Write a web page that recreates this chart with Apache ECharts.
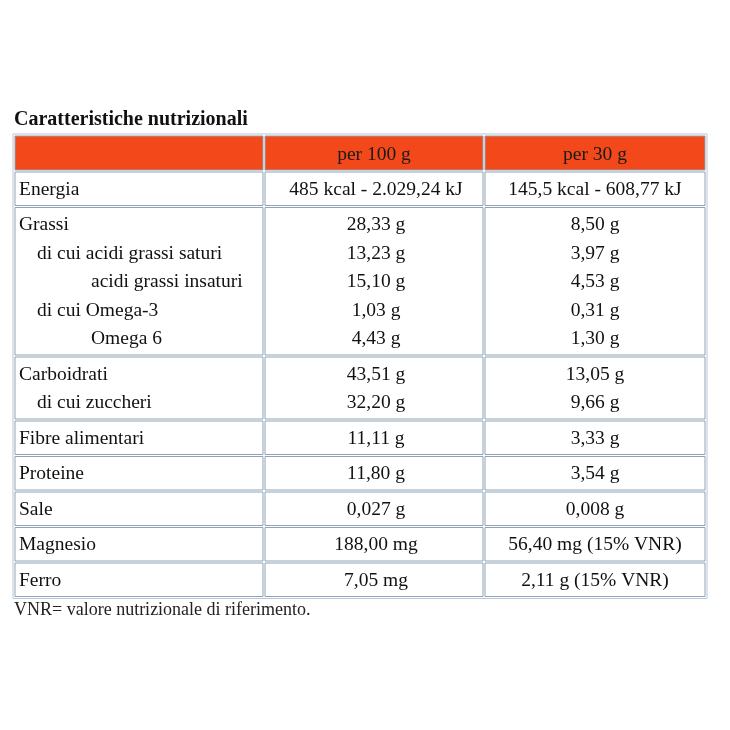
<!DOCTYPE html>
<html><head><meta charset="utf-8">
<script src="https://cdn.jsdelivr.net/npm/echarts@6/dist/echarts.min.js"></script>
<style>html,body{margin:0;padding:0;background:#fff}#c{width:730px;height:730px}</style>
</head><body><div id="c"></div>
<script>
const title = "Caratteristiche nutrizionali";
const headers = ["", "per 100 g", "per 30 g"];
const labels = ["Energia","Grassi","di cui acidi grassi saturi","acidi grassi insaturi","di cui Omega-3","Omega 6","Carboidrati","di cui zuccheri","Fibre alimentari","Proteine","Sale","Magnesio","Ferro"];
const indents = [0,0,1,2,1,2,0,1,0,0,0,0,0];
const per100 = ["485 kcal - 2.029,24 kJ","28,33 g","13,23 g","15,10 g","1,03 g","4,43 g","43,51 g","32,20 g","11,11 g","11,80 g","0,027 g","188,00 mg","7,05 mg"];
const per30 = ["145,5 kcal - 608,77 kJ","8,50 g","3,97 g","4,53 g","0,31 g","1,30 g","13,05 g","9,66 g","3,33 g","3,54 g","0,008 g","56,40 mg (15% VNR)","2,11 g (15% VNR)"];
const groups = [1,5,2,1,1,1,1,1];
const footnote = "VNR= valore nutrizionale di riferimento.";

const colX = [14, 264, 484, 706];
const top0 = 136, headerH = 34, lineH = 28.5, pad = 5, gap = 2;
const indentPx = [0, 18, 72];
const font = '"Liberation Serif","DejaVu Serif",serif';
const fs = '19.5px ';
const g = [];
g.push({type:'text', left: 14, top: 110, style:{text:title, font:'bold 20px '+font, fill:'#111'}});
function cell(x0,x1,y0,y1,fill){
  g.push({type:'rect', shape:{x:x0+1,y:y0,width:x1-x0-2,height:y1-y0}, style:{fill:fill, stroke:'#8fa3b5', lineWidth:1}});
}
let y = top0;
for(let c=0;c<3;c++){
  cell(colX[c],colX[c+1],y,y+headerH,'#f2481a');
  if(headers[c]) g.push({type:'text', x:(colX[c]+colX[c+1])/2, y:y+headerH/2+2, style:{text:headers[c], font:fs+font, fill:'#1a1a1a', align:'center', verticalAlign:'middle'}});
}
y += headerH + gap;
let r = 0;
groups.forEach(n=>{
  const h = n*lineH + pad;
  for(let c=0;c<3;c++) cell(colX[c],colX[c+1],y,y+h,'#fff');
  for(let k=0;k<n;k++,r++){
    const cy = y + pad/2 + lineH*k + lineH/2 + 1;
    g.push({type:'text', x:colX[0]+5+indentPx[indents[r]], y:cy, style:{text:labels[r], font:fs+font, fill:'#111', verticalAlign:'middle'}});
    g.push({type:'text', x:(colX[1]+colX[2])/2+2, y:cy, style:{text:per100[r], font:fs+font, fill:'#111', align:'center', verticalAlign:'middle'}});
    g.push({type:'text', x:(colX[2]+colX[3])/2, y:cy, style:{text:per30[r], font:fs+font, fill:'#111', align:'center', verticalAlign:'middle'}});
  }
  y += h + gap;
});
g.push({type:'rect', shape:{x:colX[0]-1,y:top0-2,width:colX[3]-colX[0]+2,height:y-top0+2}, style:{fill:'none', stroke:'#b8c6d3', lineWidth:1}});
g.push({type:'text', x:14, y:y+12, style:{text:footnote, font:'18px '+font, fill:'#222', verticalAlign:'middle'}});
const chart = echarts.init(document.getElementById('c'));
chart.setOption({animation:false, graphic:g});
</script></body></html>
